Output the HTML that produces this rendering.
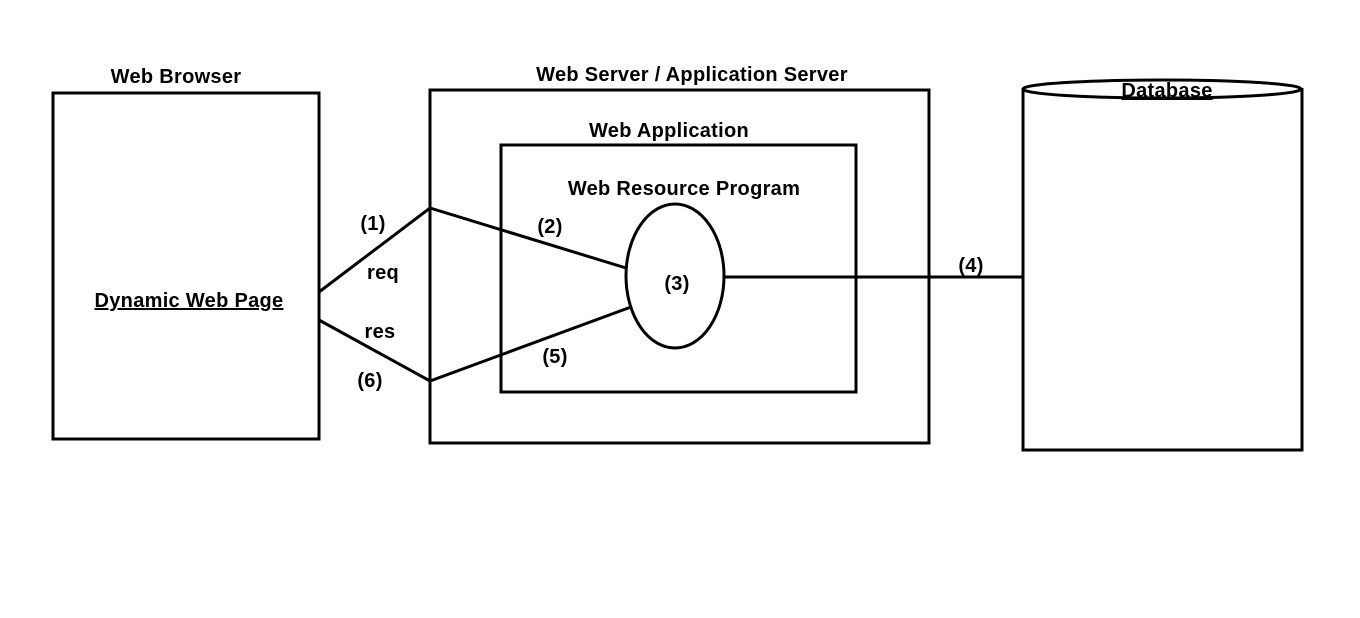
<!DOCTYPE html>
<html><head><meta charset="utf-8"><style>
html,body{margin:0;padding:0;background:#fff;}
svg text{font-family:"Liberation Sans",sans-serif;font-weight:bold;font-size:20px;letter-spacing:0.3px;fill:#000;text-anchor:middle;}
</style></head><body>
<svg width="1360" height="613" viewBox="0 0 1360 613" xmlns="http://www.w3.org/2000/svg">
<g fill="none" stroke="#000" stroke-width="3">
<rect x="53" y="93" width="266" height="346"/>
<rect x="430" y="90" width="499" height="353"/>
<rect x="501" y="145" width="355" height="247"/>
<ellipse cx="675" cy="276" rx="49" ry="72"/>
<path d="M1023 88 V450 H1302 V88"/>
<ellipse cx="1162" cy="89" rx="139" ry="9"/>
<polyline points="319,292 430,208 626,268"/>
<polyline points="319,320 430,381 631,307"/>
<line x1="723" y1="277" x2="1023" y2="277"/>
</g>
<text x="176" y="83">Web Browser</text>
<text x="692" y="81">Web Server / Application Server</text>
<text x="669" y="137">Web Application</text>
<text x="684" y="195">Web Resource Program</text>
<text x="1167" y="97" text-decoration="underline">Database</text>
<text x="189" y="307" text-decoration="underline">Dynamic Web Page</text>
<text x="373" y="230">(1)</text>
<text x="383" y="279">req</text>
<text x="380" y="338">res</text>
<text x="370" y="387">(6)</text>
<text x="550" y="233">(2)</text>
<text x="555" y="363">(5)</text>
<text x="677" y="290">(3)</text>
<text x="971" y="272">(4)</text>
</svg>
</body></html>
